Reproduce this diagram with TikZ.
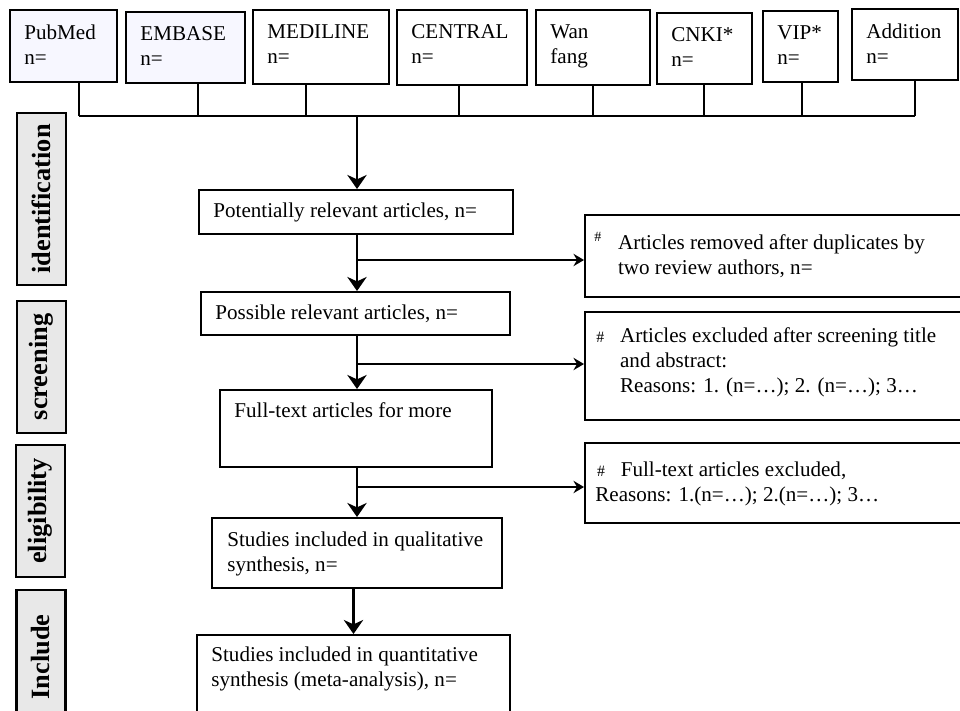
\documentclass[tikz,border=0pt]{standalone}
\usepackage{fontspec}
\setmainfont{Liberation Serif}
\usetikzlibrary{arrows.meta,fit}

% fixed-width slot for the # marks
\newcommand\hashslot[1]{\makebox[13.5pt][l]{#1}}

\begin{document}
\begin{tikzpicture}[x=0.02cm,y=-0.02cm,
  box/.style={draw,line width=1.1pt,inner sep=0pt},
  txt/.style={anchor=north west,align=left,inner sep=0pt,font=\fontsize{12}{14.4}\selectfont},
  stage/.style={draw,line width=1.4pt,fill=black!9,rotate=90,inner sep=0pt,
    minimum height=0.98cm,font=\fontsize{15}{16}\selectfont\bfseries},
  feed/.style={line width=1.5pt},
  thinfeed/.style={line width=0.9pt},
  flow/.style={line width=1.5pt,-{Stealth[length=8pt,width=11pt,inset=2.5pt]}},
  side/.style={line width=1pt,-{Stealth[length=6pt,width=7pt,inset=2pt]}}]

\useasboundingbox (0,0) rectangle (960,710);
\clip (0,0) rectangle (960,710);

% Database boxes
\foreach \n/\xa/\ya/\xb/\yb/\f/\t in {
    pubmed/10/10/117/82/blue!3/{PubMed\\n=},
    embase/126/12/245/83/blue!3/{EMBASE\\n=},
    medline/253/10/389/84/white/{MEDILINE\\n=},
    central/397/10/527/85/white/{CENTRAL\\n=},
    wanfang/536/10/650/85/white/{Wan\\fang},
    cnki/657/13/752/84/white/{CNKI*\\n=},
    vip/763/11/838/82/white/{VIP*\\n=},
    addition/852/9/958/80/white/{Addition\\n=}}{
  \node[box,fill=\f,fit={(\xa,\ya) (\xb,\yb)}] (\n) {};
  \node[txt] at ([shift={(15,15)}]\n.north west) {\t};
}

% Lines down to the collecting bar
\coordinate (bus) at (357,116);
\foreach \n/\dx/\w in {pubmed/15.5/feed, embase/12.5/thinfeed, medline/-15/feed,
    central/-3/feed, wanfang/0/thinfeed, cnki/-0.5/feed, vip/1.5/feed, addition/10/feed}{
  \draw[\w] ([shift={(\dx,0)}]\n.south) coordinate (d\n) -- (d\n |- bus);
}
\draw[feed] (dpubmed |- bus) -- (daddition |- bus);

% Flow boxes
\node[box,fit={(199,190) (513,234)}] (potential) {};
\node[txt] at ([shift={(15,13)}]potential.north west) {Potentially relevant articles, n=};
\node[box,fit={(201,292) (510,335)}] (possible) {};
\node[txt] at ([shift={(15,13)}]possible.north west) {Possible relevant articles, n=};
\node[box,fit={(220,390) (492,467)}] (fulltext) {};
\node[txt] at ([shift={(15,13)}]fulltext.north west) {Full-text articles for more};
\node[box,fit={(212,518) (502,588)}] (qualit) {};
\node[txt] at ([shift={(16,14)}]qualit.north west) {Studies included in qualitative\\synthesis, n=};
\node[box,fit={(197,635) (510,740)}] (quantit) {};
\node[txt] at ([shift={(15,12)}]quantit.north west) {Studies included in quantitative\\synthesis (meta-analysis), n=};

% Exclusion boxes
\node[box,fit={(585,215) (1000,297)}] (dupl) {};
\node[txt] at ([shift={(10,18)}]dupl.north west)
  {\hashslot{\textsuperscript{\#}}Articles removed after duplicates by\\
   \hspace*{13.5pt}two review authors, n=};
\node[box,fit={(585,312) (1000,420)}] (screenout) {};
\node[txt] at ([shift={(12,16)}]screenout.north west)
  {\hashslot{\fontsize{9}{9}\selectfont\#}Articles excluded after screening title\\
   \hspace*{13.5pt}and abstract:\\
   \hspace*{13.5pt}Reasons: 1. (n=\ldots); 2. (n=\ldots); 3\ldots};
\node[box,fit={(585,443) (1000,523)}] (fullout) {};
\node[txt] at ([shift={(11,19)}]fullout.north west)
  {\hspace*{1pt}\hashslot{\fontsize{9}{9}\selectfont\#}Full-text articles excluded,\\
   Reasons: 1.(n=\ldots); 2.(n=\ldots); 3\ldots};

% Main arrows
\coordinate (t1) at (357,260);
\coordinate (t2) at (357,364);
\coordinate (t3) at (357,487);
\draw[flow] (bus) -- (bus |- potential.north);
\draw[flow] (t1 |- potential.south) -- (t1 |- possible.north);
\draw[flow] (t2 |- possible.south) -- (t2 |- fulltext.north);
\draw[flow] (t3 |- fulltext.south) -- (t3 |- qualit.north);
\draw[flow] ([xshift=-2pt]qualit.south) -- ([xshift=-2pt]qualit.south |- quantit.north);

% Side arrows
\draw[side] (t1) -- (t1 -| dupl.west);
\draw[side] (t2) -- (t2 -| screenout.west);
\draw[side] (t3) -- (t3 -| fullout.west);

% Stage labels
\node[stage,minimum width=3.44cm] (ident) at (41.5,199) {identification};
\node[stage,minimum width=2.64cm] (screen) at (41.5,367) {screening};
\node[stage,minimum width=2.64cm] (elig) at (40.5,511) {eligibility};
\node[stage,minimum width=2.68cm] (incl) at (41,657) {Include};

\end{tikzpicture}
\end{document}
